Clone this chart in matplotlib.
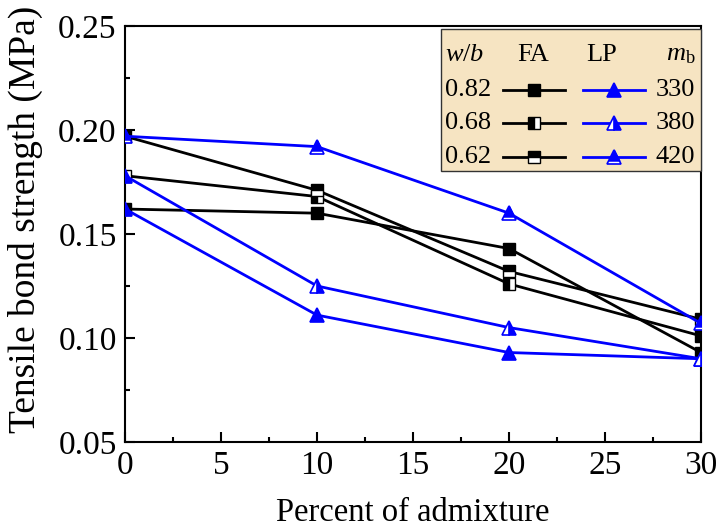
import matplotlib
matplotlib.use('Agg')
import matplotlib.pyplot as plt
from matplotlib.patches import Rectangle
from matplotlib.path import Path
from matplotlib.ticker import MultipleLocator

plt.rcParams['font.family'] = 'Liberation Serif'
plt.rcParams['mathtext.fontset'] = 'custom'
plt.rcParams['mathtext.rm'] = 'Liberation Serif'
plt.rcParams['mathtext.it'] = 'Liberation Serif:italic'

# data
admixture = [0, 10, 20, 30]
fa_082 = [0.162, 0.160, 0.143, 0.093]
fa_068 = [0.178, 0.168, 0.126, 0.101]
fa_062 = [0.197, 0.171, 0.132, 0.109]
lp_330 = [0.162, 0.111, 0.093, 0.090]
lp_380 = [0.178, 0.125, 0.105, 0.090]
lp_420 = [0.197, 0.192, 0.160, 0.107]

wb_labels = ['0.82', '0.68', '0.62']
mb_labels = ['330', '380', '420']

BLUE = '#0000FF'
fa_series = [(fa_082, 'full'), (fa_068, 'left'), (fa_062, 'top')]
lp_series = [(lp_330, 'full'), (lp_380, 'right'), (lp_420, 'cap')]

# upper part of the '^' triangle, same frame as the built-in marker, so a
# white triangle with this cap on top gives the "white bottom strip" look
tri_cap = Path([(0, 1), (-0.75, -0.5), (0.75, -0.5), (0, 1)],
               [Path.MOVETO, Path.LINETO, Path.LINETO, Path.CLOSEPOLY])

fig = plt.figure(figsize=(7.21, 5.29), dpi=100)
ax = fig.add_axes([0.1734, 0.1645, 0.7989, 0.7864])

fa_style = dict(color='black', lw=2, marker='s', ms=8, mfc='black',
                mfcalt='white', mec='black', mew=1)
lp_style = dict(color=BLUE, lw=2, marker='^', ms=10.5, mfc=BLUE,
                mfcalt='white', mec=BLUE, mew=1.2)


def draw_lp(xs, ys, fs, zorder=3, markevery=None, **kw):
    if fs == 'cap':
        ax.plot(xs, ys, zorder=zorder, markevery=markevery,
                **{**lp_style, 'mfc': 'white'}, **kw)
        ax.plot(xs, ys, ls='none', marker=tri_cap, ms=10.5, mfc=BLUE,
                mec=BLUE, mew=0.8, zorder=zorder + 0.1,
                markevery=markevery, **kw)
    else:
        ax.plot(xs, ys, fillstyle=fs, zorder=zorder, markevery=markevery,
                **lp_style, **kw)


for vals, fs in fa_series:
    ax.plot(admixture, vals, fillstyle=fs, **fa_style)
for vals, fs in lp_series:
    draw_lp(admixture, vals, fs)

ax.set_xlim(0, 30)
ax.set_ylim(0.05, 0.25)
ax.xaxis.set_major_locator(MultipleLocator(5))
ax.xaxis.set_minor_locator(MultipleLocator(2.5))
ax.yaxis.set_major_locator(MultipleLocator(0.05))
ax.yaxis.set_minor_locator(MultipleLocator(0.025))
ax.yaxis.set_major_formatter(plt.FormatStrFormatter('%.2f'))
ax.tick_params(which='both', direction='in', top=False, right=False,
               width=1.5, labelsize=24)
ax.tick_params(which='major', length=7, pad=6)
ax.tick_params(which='minor', length=3.5)
for sp in ax.spines.values():
    sp.set_linewidth(1.5)

ax.set_xlabel('Percent of admixture', fontsize=23.5, labelpad=12)
ax.set_ylabel('Tensile bond strength (MPa)', fontsize=27)
ax.yaxis.set_label_coords(-0.142, 0.534)

# table-like legend in the upper right corner
ax.add_patch(Rectangle((0.549, 0.651), 0.451, 0.342, transform=ax.transAxes,
                       facecolor='#F6E4C2', edgecolor='#333333', lw=1,
                       zorder=5, clip_on=False))
leg_fs = 19
header_y = 0.93
row_y = [0.846, 0.766, 0.686]
tk = dict(transform=ax.transAxes, fontsize=leg_fs, va='center', zorder=6)
ax.text(0.556, header_y, '$w/b$', ha='left', **tk)
ax.text(0.708, header_y, 'FA', ha='center', **tk)
ax.text(0.828, header_y, 'LP', ha='center', **tk)
ax.text(0.990, header_y, '$m_\\mathrm{b}$', ha='right', **tk)

for i, y in enumerate(row_y):
    ax.text(0.556, y, wb_labels[i], ha='left', **tk)
    ax.text(0.990, y, mb_labels[i], ha='right', **tk)
    ax.plot([0.656, 0.710, 0.764], [y, y, y], transform=ax.transAxes,
            markevery=[1], fillstyle=fa_series[i][1], clip_on=False,
            zorder=7, **fa_style)
    draw_lp([0.795, 0.849, 0.903], [y, y, y], lp_series[i][1], zorder=7,
            markevery=[1], transform=ax.transAxes, clip_on=False)

fig.savefig('out.png', dpi=100)
